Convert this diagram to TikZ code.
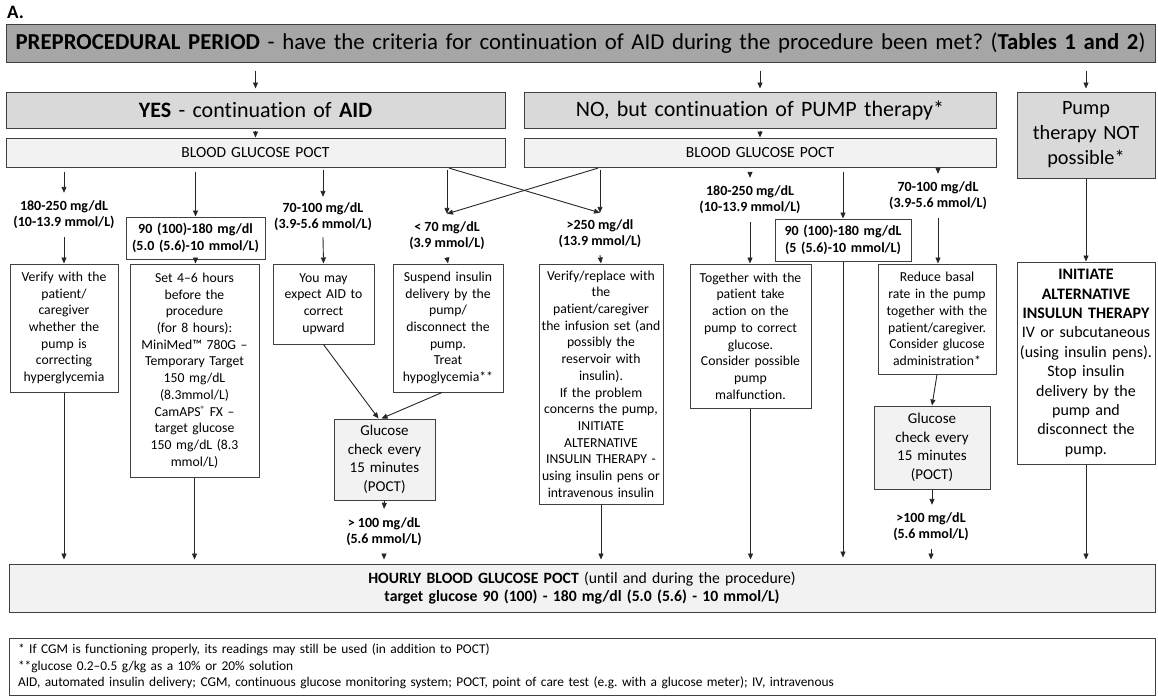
\documentclass[tikz,border=0pt]{standalone}
\usepackage{fontspec}
\setmainfont{Carlito}[Ligatures={NoCommon}]
\usetikzlibrary{arrows.meta}
\frenchspacing
\newcommand\mybox[7]{%
  \pgfmathsetmacro\bxw{#4-#2}\pgfmathsetmacro\bxh{#5-#3}%
  \pgfmathsetmacro\bxtw{#4-#2-2}%
  \pgfmathsetmacro\bxcx{(#2+#4)/2}\pgfmathsetmacro\bxcy{(#3+#5)/2}%
  \node[#6, minimum width=\bxw pt, minimum height=\bxh pt, text width=\bxtw pt] (#1) at (\bxcx,\bxcy) {#7};}
\newcommand\regmark{{\fontsize{9}{9}\selectfont\raisebox{3.5pt}{®}}}
\begin{document}
\begin{tikzpicture}[x=1pt,y=-1pt,
  bd/.style={draw=black!75, line width=1pt, inner sep=0pt, align=center},
  topbox/.style={bd, fill=black!35, font=\fontsize{22.8}{26}\selectfont},
  graybox/.style={bd, fill=black!15, font=\fontsize{22}{25}\selectfont},
  pumpbox/.style={bd, fill=black!15, font=\fontsize{20.3}{25}\selectfont},
  pocbox/.style={bd, fill=black!5, font=\fontsize{15.5}{18}\selectfont},
  wbox/.style={bd, fill=white, font=\fontsize{13.7}{16.7}\selectfont},
  rngbox/.style={bd, fill=white, font=\bfseries\fontsize{14}{16.5}\selectfont},
  chkbox/.style={bd, fill=black!5, font=\fontsize{15}{18.5}\selectfont},
  altbox/.style={bd, fill=white, font=\fontsize{16}{19.4}\selectfont},
  hourbox/.style={bd, fill=black!5, font=\fontsize{15.7}{18.5}\selectfont},
  lab/.style={inner sep=0pt, align=center, font=\bfseries\fontsize{14}{16}\selectfont},
  arr/.style={draw=black!85, line width=0.9pt, -{Triangle[length=6pt,width=5pt]}},
  ln/.style={draw=black!85, line width=0.9pt}
]
\useasboundingbox (0,0) rectangle (1158,697);
\fill[white] (0,0) rectangle (1158,697);

\node[anchor=north west, inner sep=0pt, font=\bfseries\fontsize{19}{21}\selectfont] (lblA) at (7,6) {A.};

\mybox{top}{6}{24}{1155}{62}{topbox}{\textbf{PREPROCEDURAL PERIOD} - have the criteria for continuation of AID during the procedure been met? (\textbf{Tables 1 and 2})}
\mybox{yes}{6}{92}{505}{128}{graybox}{\textbf{YES} - continuation of \textbf{AID}}
\mybox{no}{524}{92}{996}{128}{graybox}{NO, but continuation of PUMP therapy*}
\mybox{pump}{1017}{92}{1155}{178}{pumpbox}{Pump\\therapy NOT\\possible*}
\mybox{pocL}{6}{138}{505}{167}{pocbox}{BLOOD GLUCOSE POCT}
\mybox{pocR}{524}{138}{996}{167}{pocbox}{BLOOD GLUCOSE POCT}

\node[lab, minimum height=44pt] (lab1) at (64,215) {180-250 mg/dL\\(10-13.9 mmol/L)};
\node[lab, minimum height=40pt] (lab3) at (323,217) {70-100 mg/dL\\(3.9-5.6 mmol/L)};
\node[lab, minimum height=44pt] (lab4) at (447,236) {< 70 mg/dL\\(3.9 mmol/L)};
\node[lab, minimum height=42pt] (lab5) at (600,234) {>250 mg/dl\\(13.9 mmol/L)};
\node[lab, minimum height=44pt] (lab6) at (750,200) {180-250 mg/dL\\(10-13.9 mmol/L)};
\node[lab, minimum height=44pt] (lab8) at (938,196) {70-100 mg/dL\\(3.9-5.6 mmol/L)};
\node[lab, minimum height=46pt] (lab9) at (384,532) {> 100 mg/dL\\(5.6 mmol/L)};
\node[lab, minimum height=44pt] (lab10) at (931,527) {>100 mg/dL\\(5.6 mmol/L)};

\mybox{r1}{126}{217}{265}{259}{rngbox}{90 (100)-180 mg/dl\\(5.0 (5.6)-10 mmol/L)}
\mybox{r2}{775}{219}{911}{261}{rngbox}{90 (100)-180 mg/dL\\(5 (5.6)-10 mmol/L)}

\mybox{b1}{10}{264}{118}{392}{wbox}{Verify with the\\patient/\\caregiver\\whether the\\pump is\\correcting\\hyperglycemia}
\mybox{b2}{130}{264}{259}{477}{wbox}{Set 4--6 hours\\before the\\procedure\\(for 8 hours):\\MiniMed™ 780G --\\Temporary Target\\150 mg/dL\\(8.3mmol/L)\\CamAPS\regmark{} FX --\\target glucose\\150 mg/dL (8.3\\mmol/L)}
\mybox{b3}{273}{264}{374}{344}{wbox}{You may\\expect AID to\\correct\\upward}
\mybox{b4}{393}{264}{503}{392}{wbox}{Suspend insulin\\delivery by the\\pump/\\disconnect the\\pump.\\Treat\\hypoglycemia**}
\mybox{b5}{539}{264}{663}{504}{wbox}{Verify/replace with\\the\\patient/caregiver\\the infusion set (and\\possibly the\\reservoir with\\insulin).\\If the problem\\concerns the pump,\\INITIATE\\ALTERNATIVE\\INSULIN THERAPY -\\using insulin pens or\\intravenous insulin}
\mybox{b6}{690}{264}{811}{408}{wbox}{Together with the\\patient take\\action on the\\pump to correct\\glucose.\\Consider possible\\pump\\malfunction.}
\mybox{b7}{878}{264}{996}{374}{wbox}{Reduce basal\\rate in the pump\\together with the\\patient/caregiver.\\Consider glucose\\administration*}
\mybox{b8}{1017}{262}{1155}{464}{altbox}{\textbf{INITIATE}\\\textbf{ALTERNATIVE}\\\textbf{INSULUN THERAPY}\\IV or subcutaneous\\(using insulin pens).\\Stop insulin\\delivery by the\\pump and\\disconnect the\\pump.}

\mybox{g1}{334}{419}{435}{500}{chkbox}{Glucose\\check every\\15 minutes\\(POCT)}
\mybox{g2}{874}{406}{990}{489}{chkbox}{Glucose\\check every\\15 minutes\\(POCT)}

\mybox{hourly}{9}{564}{1155}{612}{hourbox}{\textbf{HOURLY BLOOD GLUCOSE POCT} (until and during the procedure)\\\textbf{target glucose 90 (100) - 180 mg/dl (5.0 (5.6) - 10 mmol/L)}}

\node[bd, fill=white, minimum width=1146pt, minimum height=57pt, text width=1128pt, align=left, font=\fontsize{13.4}{16.5}\selectfont] (foot) at (582,666.5) {* If CGM is functioning properly, its readings may still be used (in addition to POCT)\\\relax **glucose 0.2--0.5 g/kg as a 10\% or 20\% solution\\AID, automated insulin delivery; CGM, continuous glucose monitoring system; POCT, point of care test (e.g. with a glucose meter); IV, intravenous};

% top level
\draw[arr, shorten <=8pt, shorten >=3pt] (top.south -| yes.north) -- (yes.north);
\draw[arr, shorten <=8pt, shorten >=3pt] (top.south -| no.north) -- (no.north);
\draw[arr, shorten <=8pt, shorten >=3pt] (top.south -| pump.north) -- (pump.north);
\draw[arr, shorten <=2pt] (yes) -- (pocL);
\draw[arr, shorten <=2pt] (no) -- (pocR);
\draw[arr] (pump) -- (b8);

% left branch
\draw[arr, shorten <=4pt] (pocL.south -| lab1.north) -- (lab1.north);
\draw[arr] (lab1.south) -- (b1.north);
\draw[arr, shorten <=4pt] (pocL.south -| r1.north) -- (r1.north);
\draw[arr] (r1.south) -- (r1.south |- b2.north);
\draw[arr, shorten <=2pt] (pocL.south -| lab3.north) -- (lab3.north);
\draw[arr] (lab3.south) -- (b3.north);

% cross
\draw[arr, shorten <=2pt] (pocL.south -| lab4.north) -- (lab4.north);
\draw[arr, shorten <=2pt] (pocL.south -| lab4.north) -- (lab5.north);
\draw[arr, shorten <=2pt] (pocR.south -| lab5.north) -- (lab5.north);
\draw[arr, shorten <=2pt] (pocR.south -| lab5.north) -- (lab4.north);
\draw[arr] (lab4.south) -- (b4.north);
\draw[arr] (lab5.south) -- (b5.north);

% right branch
\draw[arr, shorten <=4pt] (pocR.south -| lab6.north) -- (lab6.north);
\draw[arr] (lab6.south) -- (lab6.south |- b6.north);
\draw[arr, shorten <=4pt] (pocR.south -| r2.north) -- (r2.north);
\draw[arr, shorten <=1pt] (pocR.south -| lab8.north) -- (lab8.north);
\draw[arr] (lab8.south) -- (lab8.south |- b7.north);

% glucose checks
\draw[arr] (b3.south) -- ([xshift=-6pt]g1.north);
\draw[arr] ([xshift=-6pt]b4.south) -- ([xshift=-3pt]g1.north);
\draw[arr] (g1.south) -- (lab9.north);
\draw[arr] (b7.south) -- (g2.north);
\draw[arr] (g2.south) -- (g2.south |- lab10.north);

% into hourly
\draw[arr, shorten >=4pt] (b1.south) -- (b1.south |- hourly.north);
\draw[arr, shorten >=4pt] (b2.south) -- (b2.south |- hourly.north);
\draw[arr, shorten >=4pt] (lab9.south) -- (lab9.south |- hourly.north);
\draw[arr, shorten >=4pt] (b5.south) -- (b5.south |- hourly.north);
\draw[arr, shorten >=4pt] (b6.south) -- (b6.south |- hourly.north);
\draw[arr, shorten >=6pt] (r2.south) -- (r2.south |- hourly.north);
\draw[arr, shorten >=4pt] (lab10.south) -- (lab10.south |- hourly.north);
\draw[arr, shorten >=4pt] (b8.south) -- (b8.south |- hourly.north);
\end{tikzpicture}
\end{document}
